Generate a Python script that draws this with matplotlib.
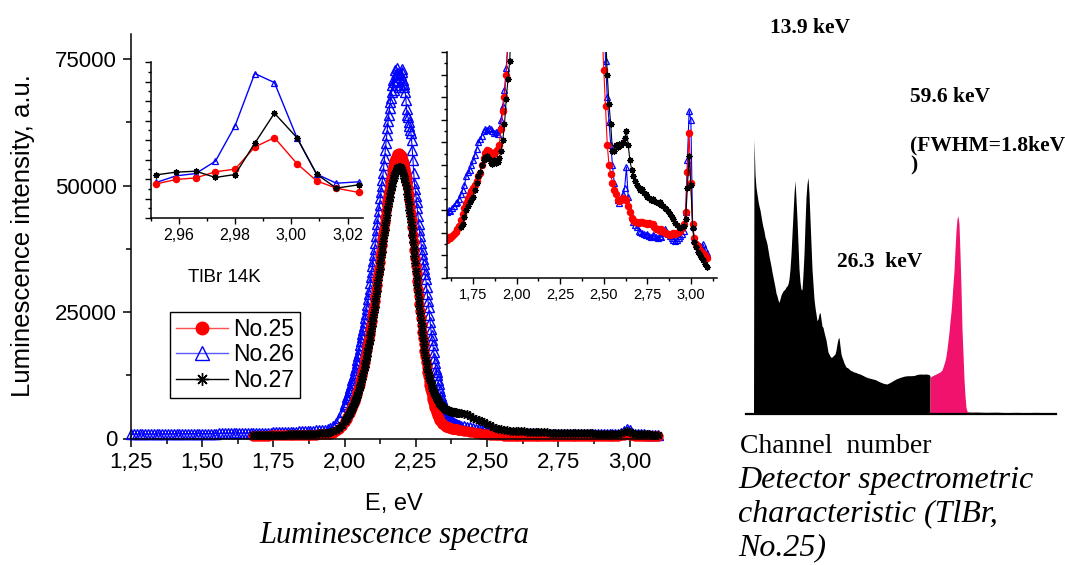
"""Luminescence spectra of TlBr samples No.25-27 with two zoom insets,
next to the detector spectrometric characteristic of sample No.25."""

import matplotlib

matplotlib.use("Agg")
import matplotlib.pyplot as plt
import numpy as np
from matplotlib.lines import Line2D
from matplotlib.ticker import FuncFormatter, MultipleLocator, NullFormatter

SANS = "Liberation Sans"
SERIF = "Liberation Serif"

plt.rcParams.update(
    {
        "font.family": SANS,
        "axes.linewidth": 1.1,
        "xtick.direction": "out",
        "ytick.direction": "out",
    }
)

W, H = 1065, 565

SAMPLES = ["No.25", "No.26", "No.27"]
COLORS = {"No.25": "#ff0000", "No.26": "#0000ff", "No.27": "#000000"}
NAN = np.nan

# ---- main spectra -------------------------------------------------------
# spectrometer energy grid (eV): 0.01 steps in the wings, 0.0025 over the band
E_MAIN = np.round(
    np.concatenate(
        [
            np.arange(1.25, 1.995, 0.01),
            np.arange(2.0, 2.399, 0.0025),
            np.arange(2.40, 3.105, 0.01),
        ]
    ),
    4,
)

INT_26 = [
    # 1.25 - 1.99
    850, 855, 860, 865, 870, 875, 880, 880, 880, 885,
    890, 895, 900, 900, 900, 905, 910, 915, 920, 925,
    930, 935, 940, 945, 950, 955, 960, 965, 970, 975,
    980, 990, 1000, 1005, 1010, 1020, 1030, 1040, 1050, 1060,
    1070, 1080, 1090, 1100, 1110, 1125, 1140, 1155, 1170, 1185,
    1200, 1220, 1240, 1260, 1280, 1300, 1320, 1345, 1370, 1395,
    1420, 1450, 1480, 1515, 1550, 1595, 1640, 1700, 1760, 1870,
    2000, 2450, 3100, 4000, 5150,
    # 2.0000 - 2.3975
    6500, 6900, 7300, 7750, 8200, 8650, 9100, 9550, 10000, 10500,
    11000, 11500, 12000, 12500, 13000, 13600, 14200, 14850, 15500, 16250,
    17000, 17750, 18500, 19250, 20000, 20750, 21500, 22250, 23000, 23850,
    24700, 25600, 26500, 27500, 28500, 29600, 30800, 31900, 33000, 34100,
    35200, 36300, 37500, 38700, 40000, 41200, 42500, 43700, 45000, 46200,
    47500, 48800, 50000, 51200, 52500, 54000, 55500, 57000, 58500, 60000,
    61500, 62800, 64000, 65300, 66500, 67400, 68500, 70000, 71000, 69000,
    70500, 72800, 72000, 70800, 73200, 72300, 71500, 69500, 70000, 71800,
    72500, 73000, 71000, 70200, 69500, 68500, 67000, 65200, 64000, 63500,
    62500, 61800, 61000, 60500, 59000, 57000, 55000, 52500, 50500, 49300,
    48000, 46800, 45500, 44000, 42500, 41200, 40000, 38700, 37500, 36500,
    35500, 34500, 33500, 32500, 31500, 30000, 28500, 27200, 26000, 24500,
    23000, 21700, 20500, 19500, 18500, 17200, 16000, 14900, 13800, 13100,
    12500, 11600, 10800, 10000, 9300, 8500, 7800, 7200, 6600, 6100,
    5700, 5300, 5000, 4700, 4400, 4200, 4000, 3850, 3700, 3550,
    3400, 3300, 3200, 3100, 3000, 2920, 2850, 2800, 2750, 2700,
    # 2.40 - 3.10
    2650, 2550, 2450, 2350, 2200, 2000, 1950, 1900, 1850, 1800,
    1700, 1600, 1500, 1400, 1320, 1250, 1200, 1150, 1120, 1100,
    1080, 1050, 1050, 1060, 1020, 1000, 1000, 1000, 990, 980,
    970, 960, 955, 950, 945, 940, 935, 930, 925, 920,
    915, 910, 905, 900, 900, 900, 895, 890, 885, 880,
    880, 880, 875, 870, 875, 880, 900, 1000, 1400, 1900,
    1700, 1000, 880, 820, 810, 800, 790, 780, 770, 760,
    750,
]

INT_25 = [NAN] * 43 + [
    # 1.68 - 1.99
    540, 550, 560, 570, 580, 590, 600, 610, 620, 630,
    640, 650, 660, 670, 680, 690, 700, 710, 725, 740,
    755, 770, 790, 810, 835, 860, 880, 900, 1100, 1400,
    1850, 2400,
    # 2.0000 - 2.3975
    3200, 3450, 3700, 3950, 4200, 4500, 4800, 5100, 5400, 5700,
    6000, 6350, 6700, 7100, 7500, 7900, 8300, 8750, 9200, 9700,
    10200, 10750, 11300, 11900, 12500, 13150, 13800, 14500, 15200, 15950,
    16700, 17450, 18200, 19000, 19800, 20650, 21500, 22400, 23300, 24250,
    25200, 26200, 27200, 28250, 29300, 30400, 31500, 32600, 33700, 34850,
    36000, 37150, 38300, 39450, 40600, 41700, 42800, 43900, 45000, 46000,
    47000, 48000, 49000, 49900, 50800, 51600, 52400, 53100, 53800, 54350,
    54900, 55300, 55700, 55950, 56200, 56300, 56400, 56350, 56300, 56100,
    55900, 55500, 55100, 54550, 54000, 53250, 52500, 51550, 50600, 49500,
    48400, 47150, 45900, 44550, 43200, 41750, 40300, 38800, 37300, 35750,
    34200, 32650, 31100, 29600, 28100, 26650, 25200, 23800, 22400, 21100,
    19800, 18600, 17400, 16300, 15200, 14200, 13200, 12300, 11400, 10600,
    9800, 9100, 8400, 7800, 7200, 6700, 6200, 5750, 5300, 4950,
    4600, 4300, 4000, 3750, 3500, 3300, 3100, 2950, 2800, 2700,
    2600, 2500, 2400, 2350, 2300, 2250, 2200, 2150, 2100, 2050,
    2000, 1975, 1950, 1925, 1900, 1875, 1850, 1825, 1800, 1775,
    # 2.40 - 3.10
    1750, 1650, 1550, 1450, 1350, 1250, 1150, 1050, 970, 900,
    820, 750, 700, 650, 620, 600, 580, 560, 550, 540,
    530, 520, 515, 510, 505, 500, 500, 500, 495, 490,
    490, 490, 485, 480, 480, 480, 480, 475, 470, 470,
    470, 470, 465, 460, 460, 460, 460, 460, 460, 460,
    460, 465, 470, 470, 475, 480, 500, 600, 750, 900,
    750, 600, 500, 480, 470, 460, 455, 450, 445, 440,
    435,
]

INT_27 = [NAN] * 43 + [
    # 1.68 - 1.99
    640, 650, 665, 680, 690, 700, 710, 720, 735, 750,
    765, 780, 795, 810, 830, 850, 865, 880, 900, 920,
    940, 960, 980, 1000, 1040, 1080, 1140, 1200, 1400, 1700,
    2100, 2650,
    # 2.0000 - 2.3975
    3400, 3620, 3850, 4070, 4300, 4550, 4800, 5070, 5350, 5620,
    5900, 6200, 6500, 6850, 7200, 7550, 7900, 8300, 8700, 9150,
    9600, 10100, 10600, 11150, 11700, 12300, 12900, 13550, 14200, 14900,
    15600, 16350, 17100, 17900, 18700, 19550, 20400, 21300, 22200, 23150,
    24100, 25100, 26100, 27150, 28200, 29250, 30300, 31400, 32500, 33600,
    34700, 35800, 36900, 38000, 39100, 40150, 41200, 42200, 43200, 44150,
    45100, 46000, 46900, 47700, 48500, 49200, 49900, 50500, 51100, 51600,
    52100, 52500, 52900, 53150, 53400, 53550, 53700, 53650, 53600, 53400,
    53200, 52850, 52500, 52000, 51500, 50800, 50100, 49250, 48400, 47400,
    46400, 45250, 44100, 42850, 41600, 40250, 38900, 37500, 36100, 34650,
    33200, 31750, 30300, 28900, 27500, 26150, 24800, 23500, 22200, 21000,
    19800, 18700, 17600, 16600, 15600, 14700, 13800, 13100, 12500, 12000,
    11500, 11000, 10500, 10050, 9600, 9250, 8900, 8600, 8300, 8050,
    7800, 7550, 7300, 7100, 6900, 6700, 6500, 6350, 6200, 6100,
    6000, 5900, 5800, 5720, 5650, 5570, 5500, 5450, 5400, 5350,
    5300, 5270, 5250, 5220, 5200, 5170, 5150, 5120, 5100, 5070,
    # 2.40 - 3.10
    5050, 5000, 4900, 4750, 4450, 4150, 3950, 3700, 3450, 3200,
    2900, 2600, 2350, 2100, 1950, 1800, 1700, 1600, 1550, 1500,
    1470, 1450, 1430, 1400, 1380, 1350, 1320, 1300, 1270, 1250,
    1220, 1200, 1170, 1150, 1120, 1100, 1100, 1100, 1070, 1050,
    1050, 1050, 1020, 1000, 1000, 1000, 1000, 1000, 970, 950,
    950, 950, 950, 950, 950, 950, 970, 1000, 1200, 1400,
    1250, 1000, 950, 900, 880, 850, 830, 800, 780, 750,
    740,
]

MAIN = {"No.25": INT_25, "No.26": INT_26, "No.27": INT_27}

# ---- inset 1: 3.0 eV line (intensity, a.u.) ------------------------------
E_LINE = [2.952, 2.959, 2.966, 2.973, 2.980, 2.987, 2.994, 3.002, 3.009, 3.016, 3.024]
LINE_25 = [1350, 1395, 1411, 1474, 1501, 1728, 1824, 1558, 1381, 1306, 1262]
LINE_26 = [1365, 1432, 1456, 1582, 1946, 2482, 2389, 1824, 1450, 1357, 1371]
LINE_27 = [1443, 1470, 1480, 1416, 1446, 1766, 2075, 1824, 1450, 1306, 1341]
LINE = {"No.25": LINE_25, "No.26": LINE_26, "No.27": LINE_27}

# ---- inset 2: weak bands on both wings (a.u.) ----------------------------
E_WING_LO = np.round(np.arange(1.60, 1.975, 0.01), 2)
E_WING_HI = np.round(np.arange(2.49, 3.095, 0.01), 2)

WING_LO_25 = [
    170, 180, 175, 185, 195, 205, 215, 230, 255, 285,
    310, 330, 355, 370, 385, 400, 410, 430, 450, 465,
    500, 530, 555, 565, 560, 555, 545, 550, 560, 570,
    590, 660, 740, 800, 900, 1040, 1200, 1400,
]
WING_LO_26 = [
    290, 300, 295, 310, 320, 330, 335, 350, 370, 390,
    410, 450, 470, 480, 500, 520, 545, 570, 600, 615,
    630, 650, 660, 655, 665, 660, 650, 640, 645, 635,
    660, 700, 760, 830, 930, 1050, 1200, 1400,
]
WING_LO_27 = [NAN] * 8 + [
    225, 240,
    270, 300, 320, 335, 345, 360, 390, 420, 450, 470,
    500, 520, 535, 540, 525, 510, 505, 520, 510, 515,
    530, 560, 610, 680, 790, 880, 960, 1150,
]
WING_HI_25 = [
    1100, 920, 760, 590, 500, 460, 420, 390, 370, 345,
    340, 345, 355, 350, 345, 320, 290, 265, 255, 250,
    250, 245, 250, 250, 245, 245, 240, 245, 240, 240,
    225, 215, 215, 210, 215, 210, 200, 200, 195, 190,
    195, 200, 195, 200, 205, 210, 220, 240, 290, 470,
    640, 420, 240, 175, 150, 140, 125, 115, 110, 100,
    90,
]
WING_HI_26 = [
    1400, 1250, 960, 800, 690, 590, 500, 420, 380, 345,
    330, 350, 370, 400, 490, 360, 300, 270, 250, 235,
    225, 210, 205, 200, 195, 190, 195, 185, 180, 190,
    185, 180, 175, 185, 180, 200, 215, 205, 195, 185,
    175, 170, 165, 170, 175, 185, 195, 210, 290, 520,
    740, 700, 230, 170, 150, 140, 140, 135, 150, 130,
    110,
]
WING_HI_27 = [
    1500, 1350, 1100, 900, 770, 680, 560, 560, 590, 580,
    595, 590, 600, 620, 650, 590, 520, 480, 450, 430,
    410, 400, 390, 395, 375, 370, 360, 355, 345, 350,
    340, 335, 330, 335, 325, 320, 310, 305, 295, 285,
    270, 260, 245, 235, 225, 220, 225, 230, 260, 400,
    540, 410, 220, 160, 135, 115, 100, 95, 80, 60,
    50,
]
WING_LO = {"No.25": WING_LO_25, "No.26": WING_LO_26, "No.27": WING_LO_27}
WING_HI = {"No.25": WING_HI_25, "No.26": WING_HI_26, "No.27": WING_HI_27}

# ---- detector pulse-height spectrum (No.25) ------------------------------
CHANNEL = [
    7.5, 8, 9, 10, 11, 12, 13, 14, 15, 16, 17, 18, 19, 20, 21, 22, 23, 24, 25,
    26, 27, 28, 29, 30, 31, 32, 33, 34, 35, 36, 37, 38, 39, 40, 41, 42, 43, 44,
    45, 46, 47, 48, 49, 50, 51, 52, 53, 54, 55, 56, 57, 58, 59, 60, 61, 62, 63,
    64, 65, 66, 67, 68, 69, 70, 71, 72, 73, 74, 75, 76, 77, 78, 79, 80, 81, 82,
    83, 84, 85, 86, 87, 88, 89, 90, 91, 92, 93, 94, 95, 96, 97, 98, 99, 100,
    102, 104, 106, 108, 110, 112, 114, 117, 120, 123, 126, 129, 132, 135, 138,
    141, 144, 147, 150, 153, 156, 159, 162, 165, 168, 171, 174, 177, 180, 183,
    184,
]
COUNTS = [
    0, 2750, 2400, 2266, 2200, 2133, 2080, 2040, 1980, 1920, 1870, 1830, 1770,
    1740, 1700, 1640, 1580, 1530, 1480, 1420, 1370, 1320, 1270, 1210, 1180,
    1140, 1116, 1150, 1190, 1210, 1230, 1240, 1250, 1270, 1280, 1300, 1350,
    1450, 1600, 1800, 2000, 2200, 2333, 2150, 1950, 1700, 1450, 1320, 1250,
    1240, 1400, 1600, 1900, 2166, 2300, 2366, 2200, 1950, 1700, 1450, 1300,
    1150, 1066, 1000, 933, 950, 1000, 1016, 950, 880, 866, 820, 780, 740, 680,
    620, 600, 580, 566, 570, 580, 590, 600, 640, 700, 750, 766, 680, 600, 566,
    540, 510, 490, 470, 460, 440, 430, 420, 415, 405, 400, 385, 370, 360, 352,
    345, 330, 316, 305, 300, 315, 333, 350, 362, 372, 380, 383, 383, 385, 395,
    400, 398, 400, 395, 380,
]
CHANNEL_PEAK = [
    184, 186, 188, 190, 192, 194, 196, 197, 198, 199, 200, 201, 202, 203, 204,
    205, 206, 207, 208, 209, 210, 211, 212, 213, 214, 215, 216, 217, 218, 219,
    220, 221, 222,
]
COUNTS_PEAK = [
    366, 380, 390, 400, 410, 420, 440, 470, 500, 533, 580, 650, 733, 820, 930,
    1020, 1150, 1300, 1433, 1640, 1833, 1950, 1983, 1900, 1600, 1266, 850, 600,
    350, 180, 66, 30, 16,
]
CHANNEL_TAIL = [222, 225, 230, 240, 250, 260, 270, 280, 290, 300, 305]
COUNTS_TAIL = [16, 14, 15, 12, 14, 10, 12, 10, 12, 10, 8]

MARKERS = {
    "No.25": dict(marker="o", mfc="#ff0000", mec="#ff0000"),
    "No.26": dict(marker="^", mfc="none", mec="#0000ff"),
    "No.27": dict(marker=(8, 2, 0), mfc="#000000", mec="#000000"),
}
DRAW_ORDER = ["No.26", "No.25", "No.27"]

assert len(E_MAIN) == len(INT_25) == len(INT_26) == len(INT_27)


def fpos(x, y):
    """Pixel position on the 1065x565 canvas -> figure fraction."""
    return x / W, 1 - y / H


def fbox(x0, y0, x1, y1):
    return [x0 / W, 1 - y1 / H, (x1 - x0) / W, (y1 - y0) / H]


comma = FuncFormatter(lambda v, _: f"{v:.2f}".replace(".", ","))

fig = plt.figure(figsize=(W / 100, H / 100), dpi=100)

# main panel
ax = fig.add_axes(fbox(131, 34, 658, 438.5))
for name in DRAW_ORDER:
    ax.plot(
        E_MAIN, MAIN[name], color=COLORS[name], lw=0.8,
        ms=6.5 if name != "No.26" else 7.5, mew=1.0, clip_on=False, **MARKERS[name]
    )
ax.set_xlim(1.25, 3.10)
ax.set_ylim(0, 80000)
ax.xaxis.set_major_locator(MultipleLocator(0.25))
ax.xaxis.set_minor_locator(MultipleLocator(0.125))
ax.xaxis.set_major_formatter(comma)
ax.yaxis.set_major_locator(MultipleLocator(25000))
ax.yaxis.set_minor_locator(MultipleLocator(12500))
ax.tick_params(which="major", length=6, width=1.1, labelsize=16, pad=4)
ax.tick_params(which="minor", length=3.5, width=1.1)
for side in ("top", "right"):
    ax.spines[side].set_visible(False)
ax.set_facecolor("none")

handles = [
    Line2D([], [], color=COLORS[n], lw=1.0, ms=9 if n != "No.26" else 10, mew=1.0, **MARKERS[n])
    for n in SAMPLES
]
handles[0].set_color("#ff5050")
handles[1].set_color("#5a5aff")
leg = ax.legend(
    handles, SAMPLES, loc="upper left", bbox_to_anchor=fpos(170, 312),
    bbox_transform=fig.transFigure, borderaxespad=0, fontsize=16.5,
    frameon=True, fancybox=False, framealpha=1, edgecolor="black",
    borderpad=0.25, labelspacing=0.12, handlelength=2.3, handletextpad=0.2,
)
leg.get_frame().set_linewidth(1.0)

fig.text(*fpos(23, 236), "Luminescence intensity, a.u.", rotation=90,
         ha="center", va="center", fontsize=18.5)
fig.text(*fpos(394, 510), "E, eV", ha="center", va="baseline", fontsize=17)
fig.text(*fpos(394, 543), "Luminescence spectra", ha="center", va="baseline",
         fontsize=22, family=SERIF, style="italic")

# inset 1: the 3.0 eV line
ax1 = fig.add_axes(fbox(150.7, 62, 363, 218))
for name in DRAW_ORDER:
    ax1.plot(E_LINE, LINE[name], color=COLORS[name], lw=1.0,
             ms=4.5 if name != "No.26" else 5, mew=0.9, **MARKERS[name])
ax1.set_xlim(2.95, 3.0255)
ax1.set_ylim(1000, 2600)
ax1.xaxis.set_major_locator(MultipleLocator(0.02))
ax1.xaxis.set_minor_locator(MultipleLocator(0.01))
ax1.xaxis.set_major_formatter(comma)
ax1.yaxis.set_major_locator(MultipleLocator(200))
ax1.yaxis.set_minor_locator(MultipleLocator(100))
ax1.yaxis.set_major_formatter(NullFormatter())
ax1.tick_params(which="major", length=4, width=1.0, labelsize=11.5, pad=3)
ax1.tick_params(which="minor", length=2.5, width=1.0)
for side in ("top", "right"):
    ax1.spines[side].set_visible(False)
ax1.set_facecolor("none")
fig.text(*fpos(188, 278), "TlBr 14K", ha="left", va="center", fontsize=13.5)

# inset 2: weak wings of the band
ax2 = fig.add_axes(fbox(447, 52, 717, 278))
for name in DRAW_ORDER:
    kw = dict(color=COLORS[name], lw=0.8, ms=4.5 if name != "No.26" else 5, mew=0.9)
    ax2.plot(E_WING_LO, WING_LO[name], **kw, **MARKERS[name])
    ax2.plot(E_WING_HI, WING_HI[name], **kw, **MARKERS[name])
ax2.set_xlim(1.60, 3.15)
ax2.set_ylim(0, 1000)
ax2.xaxis.set_major_locator(MultipleLocator(0.25))
ax2.xaxis.set_minor_locator(MultipleLocator(0.125))
ax2.xaxis.set_major_formatter(comma)
ax2.yaxis.set_major_locator(MultipleLocator(100))
ax2.yaxis.set_minor_locator(MultipleLocator(50))
ax2.yaxis.set_major_formatter(NullFormatter())
ax2.tick_params(which="major", length=4, width=1.0, labelsize=10.5, pad=3)
ax2.tick_params(which="minor", length=2.5, width=1.0)
for side in ("top", "right"):
    ax2.spines[side].set_visible(False)
ax2.set_facecolor("none")

# right panel: detector spectrum
ax3 = fig.add_axes(fbox(746, 130, 1056, 414))
ax3.fill_between(CHANNEL, COUNTS, color="black", lw=0)
ax3.fill_between(CHANNEL_PEAK, COUNTS_PEAK, color="#f0126c", lw=0)
ax3.fill_between(CHANNEL_TAIL, COUNTS_TAIL, color="black", lw=0.6)
ax3.set_xlim(0, 310)
ax3.set_ylim(0, 2840)
ax3.set_xticks([])
ax3.set_yticks([])
for side in ("top", "right", "left"):
    ax3.spines[side].set_visible(False)
ax3.spines["bottom"].set_linewidth(1.6)
ax3.set_facecolor("none")

bold = dict(family=SERIF, fontweight="bold", fontsize=15.5, ha="left", va="baseline")
fig.text(*fpos(770, 33), "13.9 keV", **bold)
fig.text(*fpos(910, 102), "59.6 keV", **bold)
fig.text(*fpos(910, 150), "(FWHM=1.8keV", **bold)
fig.text(*fpos(910, 170), ")", **bold)
fig.text(*fpos(837, 267), "26.3  keV", **bold)

fig.text(*fpos(740, 453), "Channel  number", family=SERIF, fontsize=20,
         ha="left", va="baseline")
caption = ["Detector spectrometric", "characteristic (TlBr,", "No.25)"]
for i, line in enumerate(caption):
    fig.text(*fpos(738, 488 + 33.5 * i), line, family=SERIF, style="italic",
             fontsize=23, ha="left", va="baseline")

fig.savefig("out.png", dpi=100)
